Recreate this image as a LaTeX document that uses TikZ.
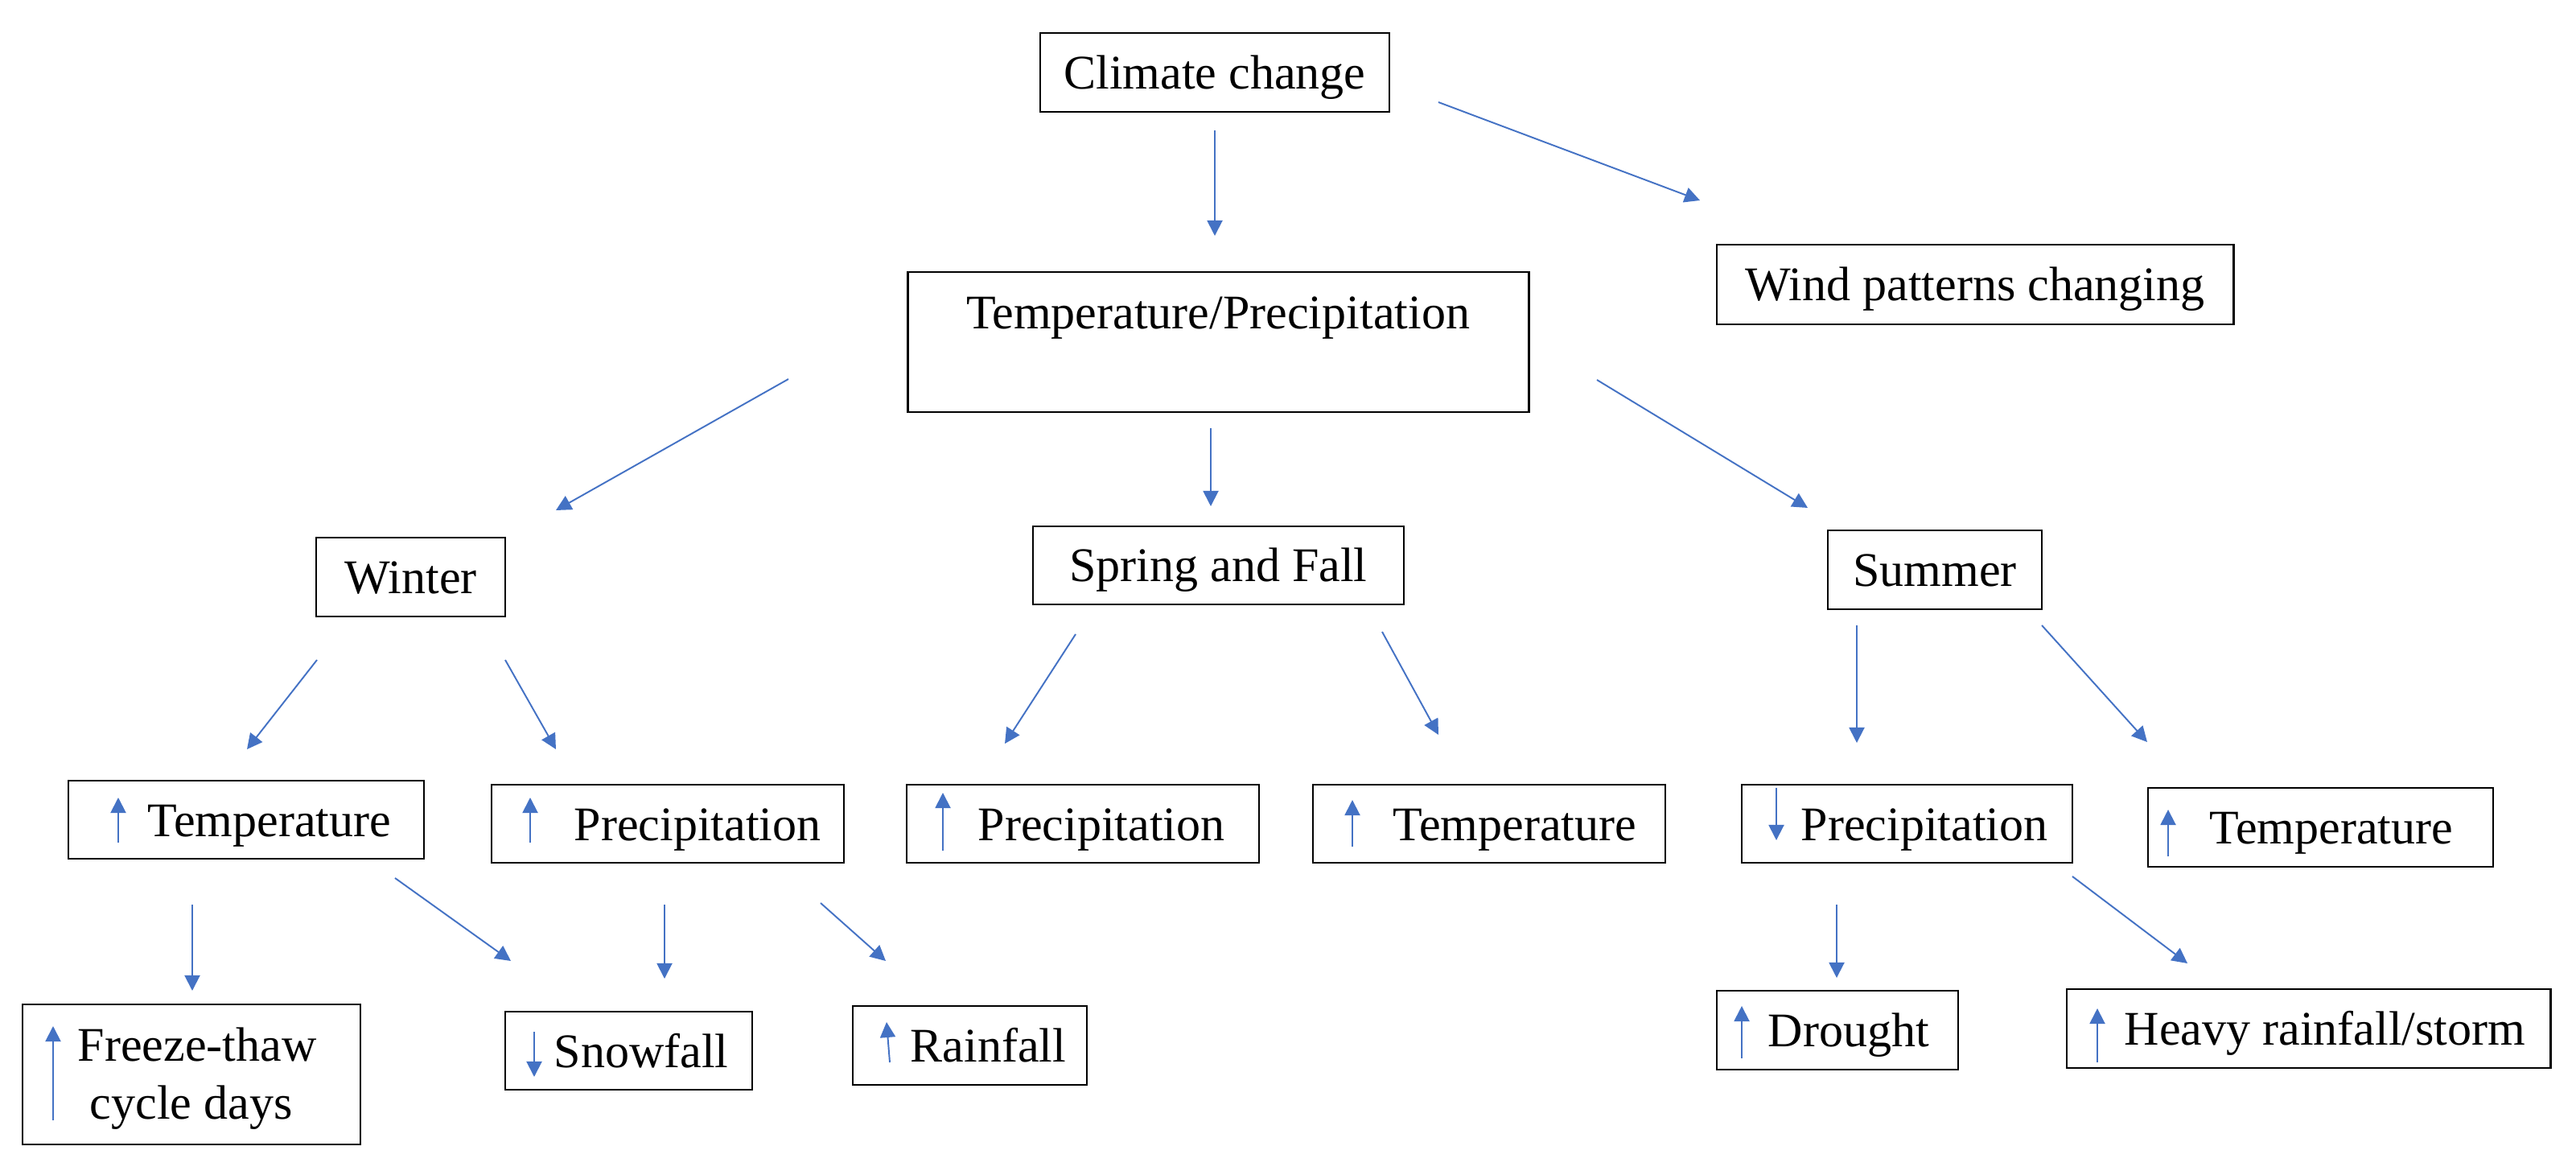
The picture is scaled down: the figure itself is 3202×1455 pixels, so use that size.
\documentclass[tikz,border=0pt]{standalone}
\usepackage{fontspec}
\setmainfont{Liberation Serif}
\usetikzlibrary{arrows.meta}
\definecolor{arrowblue}{HTML}{4472C4}
\begin{document}
\begin{tikzpicture}[x=0.01cm,y=-0.01cm,
  box/.style={draw=black,line width=0.75pt,inner sep=0pt},
  lbl/.style={font=\fontsize{17.07pt}{20.5pt}\selectfont,inner sep=0pt,text height=0.54cm,text depth=0.14cm},
  txt/.style={font=\fontsize{17.07pt}{20.5pt}\selectfont,inner sep=0pt,anchor=base west},
  conn/.style={draw=arrowblue,line width=0.55pt,-{Triangle[width=0.19cm,length=0.19cm]}},
  sign/.style={draw=arrowblue,line width=0.55pt,-{Triangle[width=0.19cm,length=0.19cm]}}]
\useasboundingbox (0,0) rectangle (3202,1455);

% ---- boxes with centred text
\node[box,lbl,minimum width=4.34cm,minimum height=0.98cm] (cc) at (1510,90) {Climate change};
\node[box,lbl,minimum width=6.42cm,minimum height=0.99cm] (wind) at (2455,353.5) {Wind patterns changing};
\node[box,lbl,minimum width=2.35cm,minimum height=0.98cm] (winter) at (510.5,717) {Winter};
\node[box,lbl,minimum width=4.61cm,minimum height=0.97cm] (spring) at (1514.5,702.5) {Spring and Fall};
\node[box,lbl,minimum width=2.66cm,minimum height=0.98cm] (summer) at (2405,708) {Summer};

% ---- Temperature/Precipitation
\node[box,minimum width=7.71cm,minimum height=1.74cm] (tp) at (1514.5,425) {};
\node[txt,anchor=base] (tpt) at (1514,409) {Temperature/Precipitation};

% ---- row 3 boxes
\node[box,minimum width=4.42cm,minimum height=0.97cm] (wtemp) at (306,1018.5) {};
\node[txt] (wtempt) at (183,1039) {Temperature};
\node[box,minimum width=4.38cm,minimum height=0.97cm] (wprec) at (830,1023.5) {};
\node[txt] (wprect) at (713,1044) {Precipitation};
\node[box,minimum width=4.38cm,minimum height=0.97cm] (sprec) at (1346,1023.5) {};
\node[txt] (sprect) at (1215,1044) {Precipitation};
\node[box,minimum width=4.38cm,minimum height=0.97cm] (stemp) at (1851,1023.5) {};
\node[txt] (stempt) at (1731,1044) {Temperature};
\node[box,minimum width=4.11cm,minimum height=0.97cm] (suprec) at (2370.5,1023.5) {};
\node[txt] (suprect) at (2238,1044) {Precipitation};
\node[box,minimum width=4.29cm,minimum height=0.98cm] (sutemp) at (2884.5,1028) {};
\node[txt] (sutempt) at (2746,1048) {Temperature};

% ---- row 4 boxes
\node[box,minimum width=4.20cm,minimum height=1.74cm] (freeze) at (238,1335) {};
\node[txt] (freezet1) at (96,1318) {Freeze-thaw};
\node[txt] (freezet2) at (111,1390) {cycle days};
\node[box,minimum width=3.07cm,minimum height=0.97cm] (snow) at (781.5,1305.5) {};
\node[txt] (snowt) at (688,1326) {Snowfall};
\node[box,minimum width=2.91cm,minimum height=0.98cm] (rain) at (1205.5,1299) {};
\node[txt] (raint) at (1131,1319) {Rainfall};
\node[box,minimum width=3.00cm,minimum height=0.98cm] (drought) at (2284,1280) {};
\node[txt] (droughtt) at (2197,1300) {Drought};
\node[box,minimum width=6.01cm,minimum height=0.98cm] (heavy) at (2869.5,1278) {};
\node[txt] (heavyt) at (2640,1298) {Heavy rainfall/storm};

% ---- signs inside boxes
\coordinate (wtemp-s0) at (147,1047); \coordinate (wtemp-s1) at (147,991);
\coordinate (wprec-s0) at (659,1047); \coordinate (wprec-s1) at (659,991);
\coordinate (sprec-s0) at (1172,1057); \coordinate (sprec-s1) at (1172,985);
\coordinate (stemp-s0) at (1681,1052); \coordinate (stemp-s1) at (1681,994);
\coordinate (suprec-s0) at (2208,979); \coordinate (suprec-s1) at (2208,1044);
\coordinate (sutemp-s0) at (2695,1064); \coordinate (sutemp-s1) at (2695,1006);
\coordinate (freeze-s0) at (66,1392); \coordinate (freeze-s1) at (66,1275);
\coordinate (snow-s0) at (664,1282); \coordinate (snow-s1) at (664,1338);
\coordinate (rain-s0) at (1106,1320); \coordinate (rain-s1) at (1102,1270);
\coordinate (drought-s0) at (2165,1315); \coordinate (drought-s1) at (2165,1250);
\coordinate (heavy-s0) at (2607,1320); \coordinate (heavy-s1) at (2607,1253);
\foreach \n in {wtemp,wprec,sprec,stemp,suprec,sutemp,freeze,snow,rain,drought,heavy}
  \draw[sign] (\n-s0) -- (\n-s1);

% ---- connector end points
\coordinate (c1a) at (1510,162);  \coordinate (c1b) at (1510,293);
\coordinate (c2a) at (1788,127);  \coordinate (c2b) at (2113,249);
\coordinate (c3a) at (980,471);   \coordinate (c3b) at (691,634);
\coordinate (c4a) at (1505,532);  \coordinate (c4b) at (1505,629);
\coordinate (c5a) at (1985,472);  \coordinate (c5b) at (2247,631);
\coordinate (c6a) at (394,820);   \coordinate (c6b) at (307,931);
\coordinate (c7a) at (628,820);   \coordinate (c7b) at (691,931);
\coordinate (c8a) at (1337,788);  \coordinate (c8b) at (1249,924);
\coordinate (c9a) at (1718,785);  \coordinate (c9b) at (1788,913);
\coordinate (c10a) at (2308,777); \coordinate (c10b) at (2308,923);
\coordinate (c11a) at (2538,777); \coordinate (c11b) at (2669,922);
\coordinate (c12a) at (239,1124); \coordinate (c12b) at (239,1231);
\coordinate (c13a) at (491,1091); \coordinate (c13b) at (635,1194);
\coordinate (c14a) at (826,1124); \coordinate (c14b) at (826,1216);
\coordinate (c15a) at (1020,1122); \coordinate (c15b) at (1101,1194);
\coordinate (c16a) at (2283,1124); \coordinate (c16b) at (2283,1215);
\coordinate (c17a) at (2576,1089); \coordinate (c17b) at (2719,1197);
\foreach \i in {1,...,17}
  \draw[conn] (c\i a) -- (c\i b);
\end{tikzpicture}
\end{document}
